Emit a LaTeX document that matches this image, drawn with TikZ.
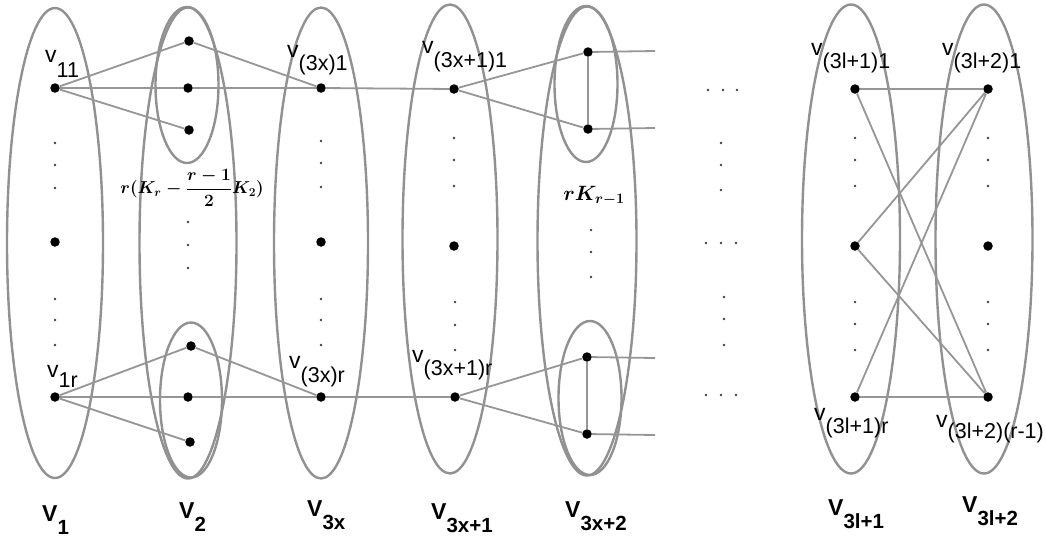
\documentclass[tikz,border=0pt]{standalone}
\usepackage{fontspec}
\setmainfont{Liberation Sans}
\usepackage{amsmath}
\usetikzlibrary{shapes.geometric}
\definecolor{ellgray}{RGB}{145,145,145}
\definecolor{edggray}{RGB}{150,150,150}
\newcommand{\vlab}[2]{{\fontsize{23}{23}\selectfont v}\raisebox{-#1pt}{\fontsize{21.5}{21.5}\selectfont #2}}
\newcommand{\Vlab}[2]{{\bfseries\fontsize{23}{23}\selectfont V}\raisebox{-#1pt}{\bfseries\fontsize{20.5}{20.5}\selectfont #2}}
\newcommand{\mathlabA}{\fontsize{17.5}{17.5}\selectfont$\boldsymbol{r(K_r-\dfrac{r-1}{2}K_2)}$}
\newcommand{\mathlabB}{\fontsize{21.5}{21.5}\selectfont$\boldsymbol{rK_{r-1}}$}
\begin{document}
\begin{tikzpicture}[x=1pt,y=-1pt,
  vert/.style={circle,fill=black,inner sep=0pt,minimum size=9.5pt},
  sdot/.style={circle,fill=black!75,inner sep=0pt,minimum size=2.8pt},
  grp/.style={ellipse,draw=ellgray,line width=2.4pt,inner sep=0pt},
  edg/.style={draw=edggray,line width=1.8pt},
  lab/.style={anchor=base west,inner sep=0pt},
  mlab/.style={inner sep=0pt}]
\useasboundingbox (0,0) rectangle (1046,539);

% group ellipses
\node[grp,minimum width=96pt,minimum height=470pt] (E1) at (55,243) {};
\node[grp,minimum width=97pt,minimum height=471pt] (E2) at (188,243) {};
\node[grp,minimum width=63pt,minimum height=156pt] (E2a) at (187,85) {};
\node[grp,minimum width=62pt,minimum height=155pt] (E2b) at (191,400) {};
\node[grp,minimum width=94pt,minimum height=471pt] (E3) at (321,243) {};
\node[grp,minimum width=95pt,minimum height=469pt] (E4) at (450,239) {};
\node[grp,minimum width=99pt,minimum height=469pt] (E5) at (587,241) {};
\node[grp,minimum width=63pt,minimum height=156pt] (E5a) at (586,84) {};
\node[grp,minimum width=63pt,minimum height=154pt] (E5b) at (590,398) {};
\node[grp,minimum width=98pt,minimum height=469pt] (E6) at (851,239) {};
\node[grp,minimum width=97pt,minimum height=469pt] (E7) at (984,239) {};

% vertices
\node[vert] (a1) at (55,88) {};
\node[vert] (am) at (55,242) {};
\node[vert] (ar) at (55,397) {};
\node[vert] (b1) at (189,41) {};
\node[vert] (b2) at (188,88) {};
\node[vert] (b3) at (189,130) {};
\node[vert] (br1) at (191,346) {};
\node[vert] (br2) at (188,397) {};
\node[vert] (br3) at (190,442) {};
\node[vert] (c1) at (321,88) {};
\node[vert] (cm) at (321,242) {};
\node[vert] (cr) at (321,397) {};
\node[vert] (d1) at (454,89) {};
\node[vert] (dm) at (454,246) {};
\node[vert] (dr) at (455,397) {};
\node[vert] (e1) at (588,52) {};
\node[vert] (e2) at (588,129) {};
\node[vert] (er1) at (587,357) {};
\node[vert] (er2) at (587,434) {};
\node[vert] (f1) at (855,89) {};
\node[vert] (fm) at (855,246) {};
\node[vert] (fr) at (855,397) {};
\node[vert] (g1) at (988,89) {};
\node[vert] (gm) at (988,246) {};
\node[vert] (gr) at (988,397) {};
\coordinate (t1) at (655,51);
\coordinate (t2) at (655,128);
\coordinate (t3) at (655,358);
\coordinate (t4) at (655,435);

% edges
\path[edg] (a1) -- (b1) (a1) -- (b2) (a1) -- (b3) (b1) -- (c1) (b2) -- (c1) (c1) -- (d1)
  (d1) -- (e1) (d1) -- (e2) (e1) -- (e2) (e1) -- (t1) (e2) -- (t2);
\path[edg] (ar) -- (br1) (ar) -- (br2) (ar) -- (br3) (br1) -- (cr) (br2) -- (cr) (cr) -- (dr)
  (dr) -- (er1) (dr) -- (er2) (er1) -- (er2) (er1) -- (t3) (er2) -- (t4);
\path[edg] (f1) -- (g1) (f1) -- (gr) (fm) -- (g1) (fr) -- (g1) (fm) -- (gr) (fr) -- (gr);

% small dots
\foreach \x/\y [count=\i] in {55/143,55/165,55/188,55/299,55/320,55/345,
  188/222,188/245,188/268,
  321/141,321/163,321/187,321/299,321/320,321/345,
  454/138,454/160,454/186,455/302,455/325,455/350,
  591/230,591/252,591/277,
  708/90,723/90,737/90,721/143,721/165,721/190,706/243,721/243,736/243,
  724/297,724/319,724/345,706/395,721/395,736/395,
  855/138,855/160,855/186,855/302,855/324,855/350,
  988/138,988/160,988/186,988/302,988/324,988/350}
  \node[sdot] (dot\i) at (\x,\y) {};

% vertex labels
\node[lab] (l11) at (45,62) {\vlab{15}{11}};
\node[lab] (l1r) at (47,377) {\vlab{10}{1r}};
\node[lab] (l3x1) at (287,57) {\vlab{13}{(3x)1}};
\node[lab] (l3xr) at (289,368) {\vlab{14}{(3x)r}};
\node[lab] (l3x11) at (422,53) {\vlab{14}{(3x+1)1}};
\node[lab] (l3x1r) at (412,362) {\vlab{13}{(3x+1)r}};
\node[lab] (l3l11) at (811,55) {\vlab{13}{(3l+1)1}};
\node[lab] (l3l21) at (942,55) {\vlab{13}{(3l+2)1}};
\node[lab] (l3l1r) at (814,420) {\vlab{13}{(3l+1)r}};
\node[lab] (l3l2r) at (936,427) {\vlab{11}{(3l+2)(r-1)}};

% math labels
\node[mlab] (m1) at (192,188) {\mathlabA};
\node[mlab] (m2) at (594,196) {\mathlabB};

% set labels
\node[lab] (V1) at (42,521) {\Vlab{13}{1}};
\node[lab] (V2) at (179,518) {\Vlab{13}{2}};
\node[lab] (V3x) at (307,516) {\Vlab{13}{3x}};
\node[lab] (V3x1) at (431,519) {\Vlab{13}{3x+1}};
\node[lab] (V3x2) at (565,517) {\Vlab{13}{3x+2}};
\node[lab] (V3l1) at (828,515) {\Vlab{13}{3l+1}};
\node[lab] (V3l2) at (962,512) {\Vlab{13}{3l+2}};
\end{tikzpicture}
\end{document}
